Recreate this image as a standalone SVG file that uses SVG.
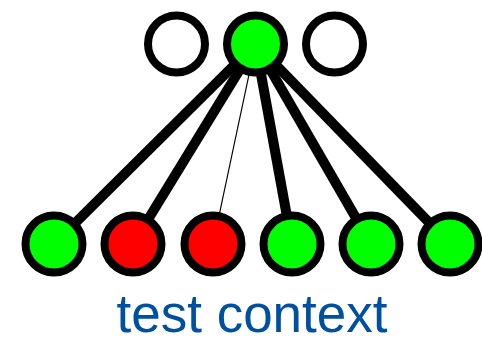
<svg xmlns="http://www.w3.org/2000/svg" width="482" height="344" viewBox="0 0 482 344">
  <style>
    .node { stroke: #000; stroke-width: 8; }
    .on { fill: #00ff00; }
    .off { fill: #ff0000; }
    .empty { fill: #fff; }
    .edge { stroke: #000; stroke-width: 10; }
    .thin { stroke: #000; stroke-width: 1.2; }
    .label { font-family: "Liberation Sans", Arial, sans-serif; font-size: 53px; fill: #0050a0; text-anchor: middle; }
  </style>
  <rect width="482" height="344" fill="#fff"/>
  <g id="connectors">
    <line class="edge" x1="255.5" y1="44" x2="54" y2="244"/>
    <line class="edge" x1="255.5" y1="44" x2="133" y2="244"/>
    <line class="thin" x1="255.5" y1="44" x2="213" y2="244"/>
    <line class="edge" x1="255.5" y1="44" x2="292" y2="244"/>
    <line class="edge" x1="255.5" y1="44" x2="371" y2="244"/>
    <line class="edge" x1="255.5" y1="44" x2="450" y2="244"/>
  </g>
  <g id="top-left"><circle class="node empty" cx="176.5" cy="44" r="28.5"/></g>
  <g id="top-center"><circle class="node on" cx="255.5" cy="44" r="28.5"/></g>
  <g id="top-right"><circle class="node empty" cx="334.5" cy="44" r="28.5"/></g>
  <g id="leaf-1"><circle class="node on" cx="54" cy="244" r="28.5"/></g>
  <g id="leaf-2"><circle class="node off" cx="133" cy="244" r="28.5"/></g>
  <g id="leaf-3"><circle class="node off" cx="213" cy="244" r="28.5"/></g>
  <g id="leaf-4"><circle class="node on" cx="292" cy="244" r="28.5"/></g>
  <g id="leaf-5"><circle class="node on" cx="371" cy="244" r="28.5"/></g>
  <g id="leaf-6"><circle class="node on" cx="450" cy="244" r="28.5"/></g>
  <text class="label" x="252" y="332">test context</text>
</svg>
